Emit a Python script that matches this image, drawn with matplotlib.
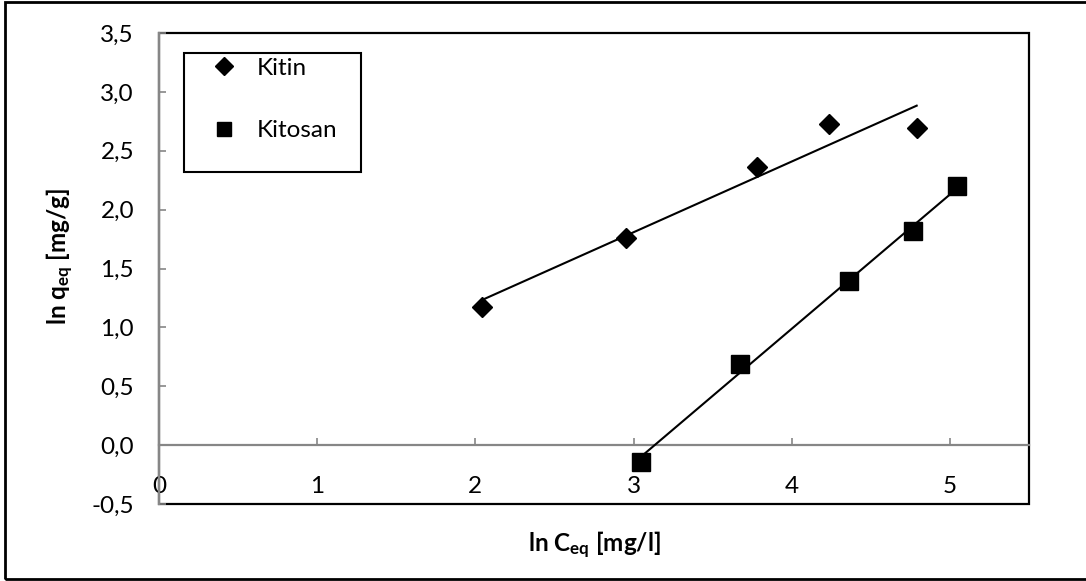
import matplotlib
matplotlib.use("Agg")
from matplotlib import pyplot as plt
from matplotlib.patches import Rectangle
import numpy as np

# data
kitin_x = [2.04, 2.95, 3.78, 4.235, 4.79]
kitin_y = [1.175, 1.76, 2.363, 2.73, 2.69]
kitosan_x = [3.045, 3.673, 4.364, 4.764, 5.046]
kitosan_y = [-0.142, 0.688, 1.395, 1.817, 2.20]

x_ticks = [0, 1, 2, 3, 4, 5]
y_ticks = [-0.5, 0.0, 0.5, 1.0, 1.5, 2.0, 2.5, 3.0, 3.5]
y_tick_labels = ["-0,5", "0,0", "0,5", "1,0", "1,5", "2,0", "2,5", "3,0", "3,5"]

plt.rcParams['font.family'] = ['Lato', 'DejaVu Sans']
plt.rcParams['mathtext.fontset'] = 'custom'
plt.rcParams['mathtext.rm'] = 'Lato'
plt.rcParams['mathtext.bf'] = 'Lato:bold'

grey = '#868686'
fs = 17.5

fig = plt.figure(figsize=(10.86, 5.81), dpi=100)
ax = fig.add_axes([159 / 1086, 77 / 581, 870 / 1086, 471 / 581])

# outer chart frame
fig.add_artist(Rectangle((5 / 1086, 2 / 581), 1.2, 577 / 581, transform=fig.transFigure,
                         fill=False, edgecolor='black', linewidth=2.0, clip_on=False))

ax.set_xlim(0, 5.5)
ax.set_ylim(-0.5, 3.5)

# plot area border
ax.add_patch(Rectangle((0, 0), 1, 1, transform=ax.transAxes, fill=False,
                       edgecolor='black', linewidth=1.6, clip_on=False, zorder=1))

for side in ['top', 'right']:
    ax.spines[side].set_visible(False)
ax.spines['left'].set_color(grey)
ax.spines['left'].set_linewidth(1.6)
ax.spines['left'].set_zorder(2)
ax.spines['bottom'].set_position(('data', 0))
ax.spines['bottom'].set_color(grey)
ax.spines['bottom'].set_linewidth(1.6)

ax.set_xticks(x_ticks)
ax.set_yticks(y_ticks)
ax.set_yticklabels(y_tick_labels)
ax.tick_params(axis='x', direction='in', length=5, width=1.2, color=grey,
               labelsize=fs, pad=22)
ax.tick_params(axis='y', direction='in', length=5, width=1.2, color=grey,
               labelsize=fs, pad=18)

# trend lines (least squares fits)
for xs, ys in [(kitin_x, kitin_y), (kitosan_x, kitosan_y)]:
    k, b = np.polyfit(xs, ys, 1)
    xx = np.array([min(xs), max(xs)])
    ax.plot(xx, k * xx + b, color='black', linewidth=1.5, zorder=3)

ax.plot(kitin_x, kitin_y, linestyle='none', marker='D', markersize=10.5,
        color='black', label='Kitin', zorder=4)
ax.plot(kitosan_x, kitosan_y, linestyle='none', marker='s', markersize=12.5,
        color='black', label='Kitosan', zorder=4)

# legend with its own box
ax.add_patch(Rectangle((25 / 870, 332 / 471), 177 / 870, 119 / 471, transform=ax.transAxes,
                       fill=False, edgecolor='black', linewidth=1.5, zorder=5))
ax.legend(loc='upper left', bbox_to_anchor=(0.063, 0.948), frameon=False, fontsize=fs,
          handlelength=0.85, handletextpad=0.9, labelspacing=1.72, borderpad=0,
          borderaxespad=0, markerscale=0.85)

ax.set_xlabel(r'ln $\mathbf{C_{eq}}$ [mg/l]', fontsize=fs, fontweight='bold')
ax.xaxis.label.set_verticalalignment('center')
ax.xaxis.set_label_coords(0.5, -41 / 471)
ax.set_ylabel(r'ln $\mathbf{q_{eq}}$ [mg/g]', fontsize=fs, fontweight='bold')
ax.yaxis.label.set_verticalalignment('center')
ax.yaxis.set_label_coords(-99 / 870, 248 / 471)

fig.savefig('out.png', dpi=100)
